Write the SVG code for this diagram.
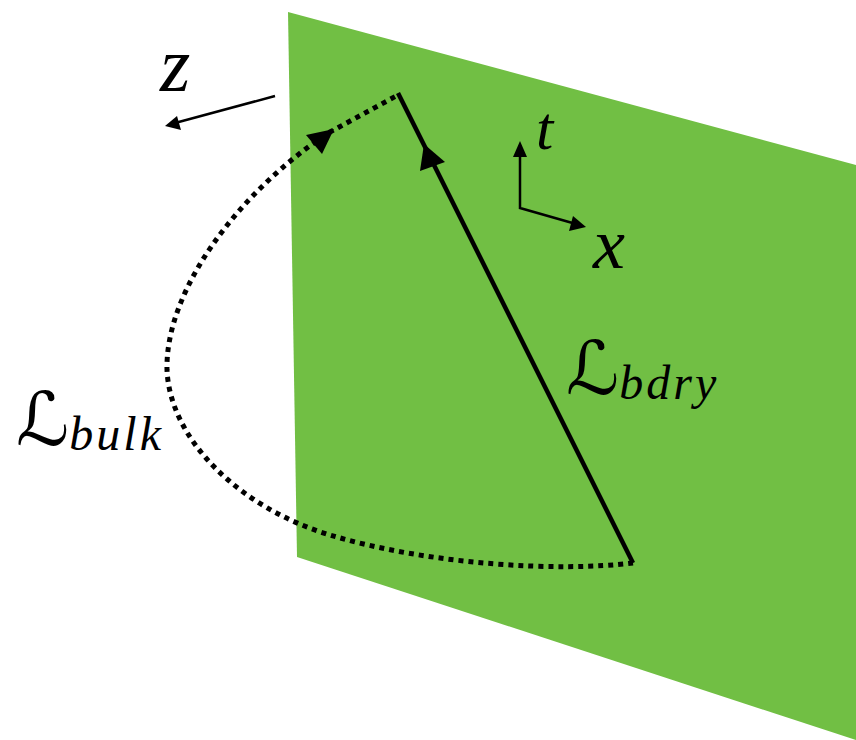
<svg xmlns="http://www.w3.org/2000/svg" width="856" height="740" viewBox="0 0 856 740">
<style>
.lbl{font-family:"Liberation Serif","DejaVu Serif",serif;font-style:italic;fill:#000}
.cal{font-family:"DejaVu Serif","DejaVu Sans",serif;font-style:normal}
.sub{font-size:48px;letter-spacing:3px}
.ar{fill:#000;stroke:none}
</style>
<rect width="856" height="740" fill="#fff"/>
<g id="plane"><polygon points="288,12 856,165 856,740 297,557" fill="#71bf44"/></g>
<g id="connectors" fill="none" stroke="#000">
<path id="bulk-path" d="M633,563 C560,572 430,565 330,535 C240,508 170,440 167,370 C165,290 240,190 330,132 L398,95" stroke-width="5" stroke-dasharray="5 5"/>
<polygon class="ar" points="334,129 306,135 322,154"/>
<line id="bdry-path" x1="633" y1="563" x2="398" y2="93" stroke-width="4.5"/>
<polygon class="ar" points="424,144 420,171 445,162"/>
<line x1="275" y1="96" x2="175" y2="123" stroke-width="2.5"/>
<polygon class="ar" points="165,126 177,116 181,130"/>
<polyline points="520,145 520,208 576,224" stroke-width="2.5"/>
<polygon class="ar" points="520,141 513,157 527,157"/>
<polygon class="ar" points="586,227 573,216 569,231"/>
</g>
<g id="label-z"><text class="lbl" x="160" y="91" font-size="78">z</text></g>
<g id="label-t"><text class="lbl" x="536" y="149" font-size="62">t</text></g>
<g id="label-x"><text class="lbl" x="593" y="268" font-size="72">x</text></g>
<g id="label-bulk"><text class="lbl" x="16" y="445" font-size="74"><tspan class="cal">ℒ</tspan><tspan class="sub" dy="5">bulk</tspan></text></g>
<g id="label-bdry"><text class="lbl" x="566" y="394" font-size="74"><tspan class="cal">ℒ</tspan><tspan class="sub" dy="5">bdry</tspan></text></g>
</svg>
